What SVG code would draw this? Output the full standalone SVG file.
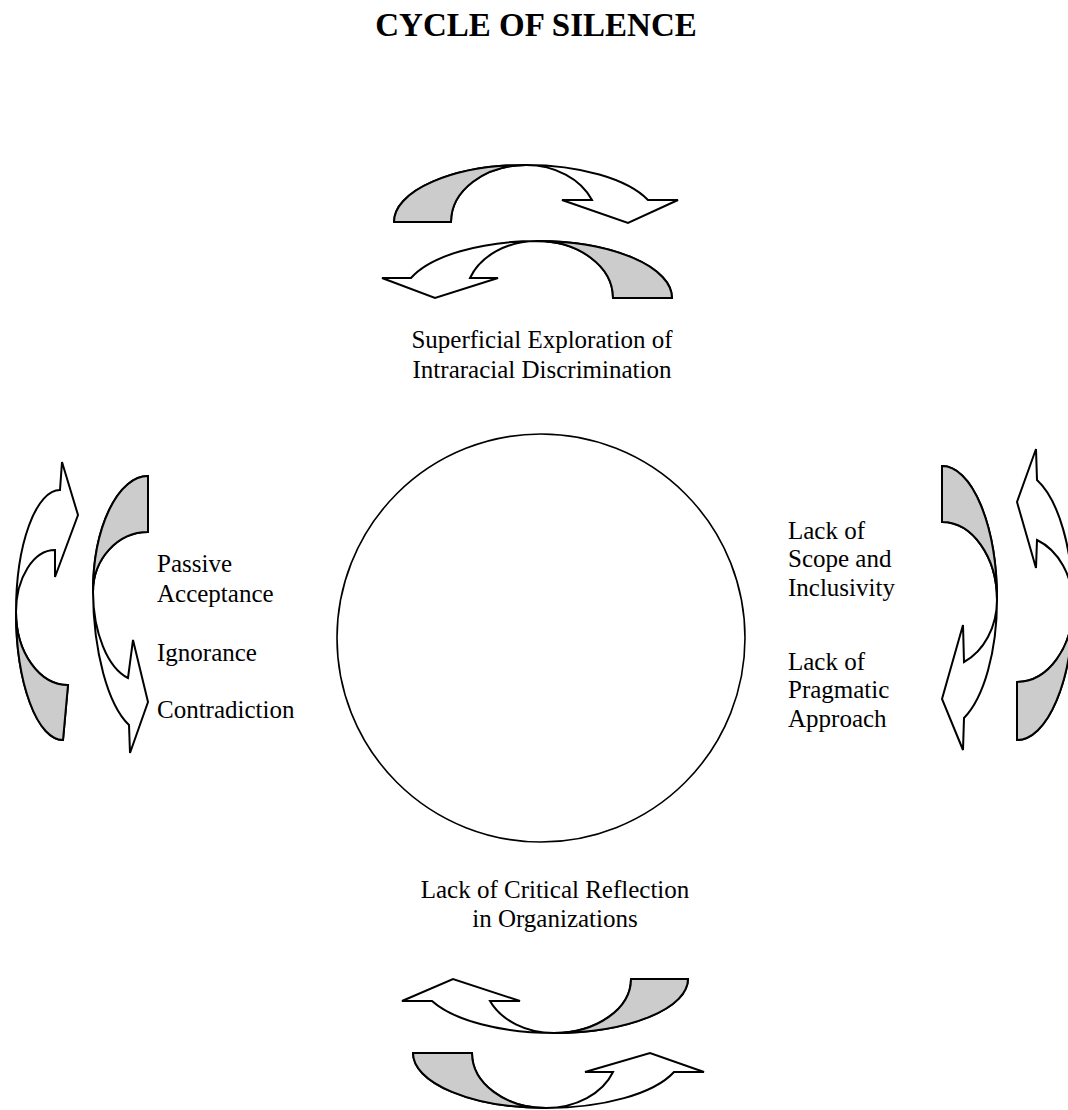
<svg xmlns="http://www.w3.org/2000/svg" width="1068" height="1110" viewBox="0 0 1068 1110">
<style>
.t{font-family:"Liberation Serif","Times New Roman",serif;font-size:25px;fill:#000}
.title{font-family:"Liberation Serif","Times New Roman",serif;font-size:33px;font-weight:bold;fill:#000}
.arr{fill:#fff;stroke:#000;stroke-width:2;stroke-linejoin:miter}
.tail{fill:#cccccc;stroke:#000;stroke-width:2}
.c{fill:#fff;stroke:#000;stroke-width:1.6}
</style>
<rect width="1068" height="1110" fill="#fff"/>
<text class="title" x="536" y="36" text-anchor="middle">CYCLE OF SILENCE</text>

<g id="center-circle">
<circle class="c" cx="541" cy="638" r="204"/>
</g>

<g id="connectors">
<g id="top-arrow-1">
<path class="arr" d="M 394,222 A 132,57 0 0 1 526,165 A 132,57 0 0 1 648,200 L 678,200 L 628,223 L 562,200 L 592,200 A 71.5,57 0 0 0 526,165 A 75,57 0 0 0 451,222 Z"/>
<path class="tail" d="M 394,222 A 132,57 0 0 1 526,165 A 75,57 0 0 0 451,222 Z"/>
</g>
<g id="top-arrow-2">
<path class="arr" d="M 672,298 A 135,57 0 0 0 537,241 A 135,57 0 0 0 411,278 L 382,278 L 435,298 L 498,278 L 470,278 A 71.5,57 0 0 1 537,241 A 76,57 0 0 1 613,298 Z"/>
<path class="tail" d="M 672,298 A 135,57 0 0 0 537,241 A 76,57 0 0 1 613,298 Z"/>
</g>
<g id="bottom-arrow-1">
<path class="arr" d="M 688,979 A 134,54 0 0 1 554,1033 A 134,54 0 0 1 432,1001 L 402,1001 L 453,979 L 520,1001 L 490,1001 A 70,54 0 0 0 554,1033 A 77,54 0 0 0 631,979 Z"/>
<path class="tail" d="M 688,979 A 134,54 0 0 1 554,1033 A 77,54 0 0 0 631,979 Z"/>
</g>
<g id="bottom-arrow-2">
<path class="arr" d="M 413,1053 A 133,55 0 0 0 546,1108 A 136,55 0 0 0 674,1072 L 704,1072 L 650,1053 L 585,1072 L 613,1072 A 71.5,55 0 0 1 546,1108 A 74,55 0 0 1 472,1053 Z"/>
<path class="tail" d="M 413,1053 A 133,55 0 0 0 546,1108 A 74,55 0 0 1 472,1053 Z"/>
</g>
<g id="left-arrow-1">
<path class="arr" d="M 63,740 A 47,128 0 0 1 16,612 A 44,122 0 0 1 60,490 L 62,462 L 78,515 L 55,577 L 55,550 A 39,62 0 0 0 16,612 A 52,73 0 0 0 68,685 Z"/>
<path class="tail" d="M 63,740 A 47,128 0 0 1 16,612 A 52,73 0 0 0 68,685 Z"/>
</g>
<g id="left-arrow-2">
<path class="arr" d="M 148,476 A 55,116 0 0 0 93,592 A 55,145 0 0 0 129,725 L 130,753 L 148,702 L 133,640 L 128,678 A 47,90 0 0 1 93,592 A 55,60 0 0 1 148,532 Z"/>
<path class="tail" d="M 148,476 A 55,116 0 0 0 93,592 A 55,60 0 0 1 148,532 Z"/>
</g>
<g id="right-arrow-1">
<path class="arr" d="M 942,466 A 55,134 0 0 1 997,600 A 55,129 0 0 1 964,718 L 963,750 L 942,699 L 963,625 L 964,662 A 55,68 0 0 0 997,600 A 55,78 0 0 0 942,522 Z"/>
<path class="tail" d="M 942,466 A 55,134 0 0 1 997,600 A 55,78 0 0 0 942,522 Z"/>
</g>
<g id="right-arrow-2">
<path class="arr" d="M 1017,740 A 56,135 0 0 0 1073,605 A 56,134 0 0 0 1037,480 L 1036,449 L 1017,502 L 1036,568 L 1037,540 A 56,70 0 0 1 1073,605 A 56,77 0 0 1 1017,682 Z"/>
<path class="tail" d="M 1017,740 A 56,135 0 0 0 1073,605 A 56,77 0 0 1 1017,682 Z"/>
</g>
</g>

<g id="label-top">
<text class="t" x="542" y="348" text-anchor="middle">Superficial Exploration of</text>
<text class="t" x="542" y="378" text-anchor="middle">Intraracial Discrimination</text>
</g>
<g id="label-left">
<text class="t" x="157" y="572">Passive</text>
<text class="t" x="157" y="602">Acceptance</text>
<text class="t" x="157" y="661">Ignorance</text>
<text class="t" x="157" y="718">Contradiction</text>
</g>
<g id="label-right">
<text class="t" x="788" y="539">Lack of</text>
<text class="t" x="788" y="567">Scope and</text>
<text class="t" x="788" y="596">Inclusivity</text>
<text class="t" x="788" y="670">Lack of</text>
<text class="t" x="788" y="698">Pragmatic</text>
<text class="t" x="788" y="727">Approach</text>
</g>
<g id="label-bottom">
<text class="t" x="555" y="898" text-anchor="middle">Lack of Critical Reflection</text>
<text class="t" x="555" y="927" text-anchor="middle">in Organizations</text>
</g>
</svg>
